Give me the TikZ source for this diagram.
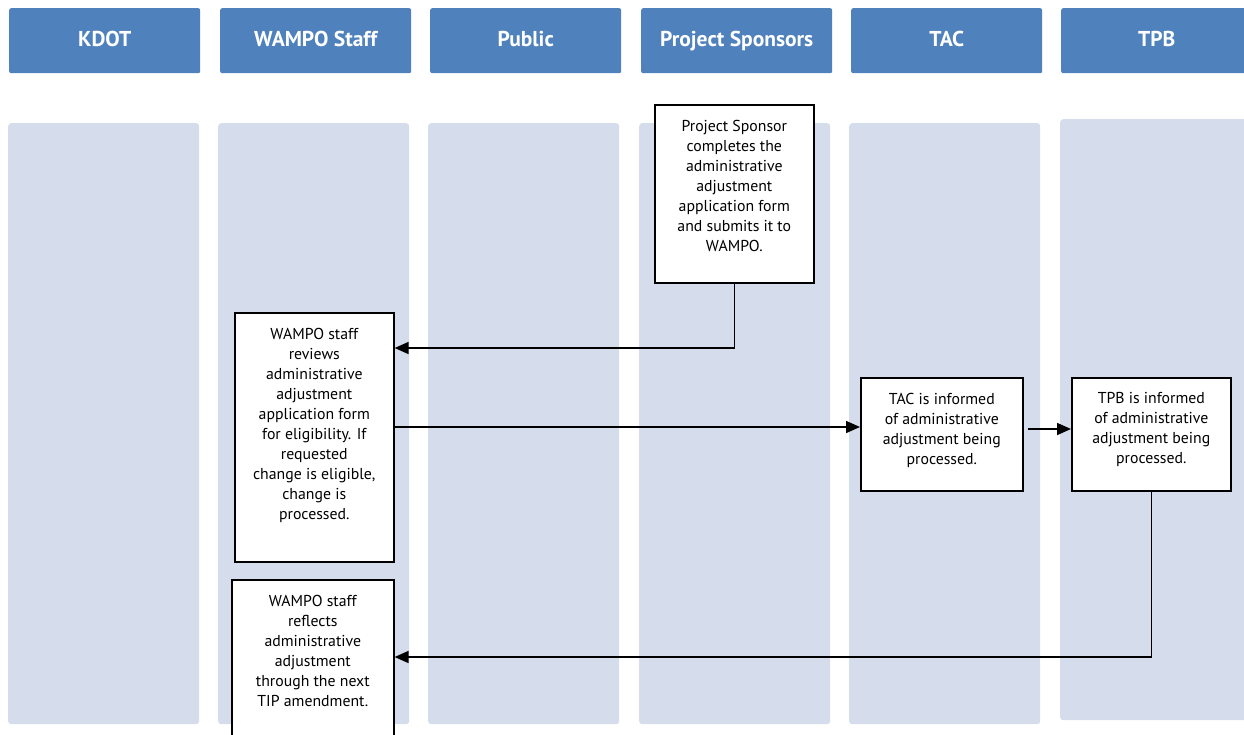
\documentclass[tikz,border=0pt]{standalone}
\usepackage{fontspec}
\setmainfont{PT Sans}
\usepackage{xcolor}
\usetikzlibrary{arrows.meta, positioning}

\definecolor{headblue}{HTML}{4F81BD}
\definecolor{lanegray}{HTML}{D5DCEB}

% text of a step box, set from the top
\newcommand{\steptext}[3]{\parbox[c][#2][t]{#1}{\centering\vspace*{15pt}#3}}

\begin{document}
\begin{tikzpicture}[x=1pt, y=-1pt, >={Triangle[length=14pt,width=12pt]},
  font=\fontsize{15.8}{20}\selectfont,
  head/.style={fill=headblue, rounded corners=2pt, minimum width=191pt, minimum height=65pt, inner sep=0pt, anchor=north west, text=white, text height=15pt, text depth=4pt, font=\fontsize{21.5}{24}\selectfont\bfseries},
  lane/.style={fill=lanegray, rounded corners=3pt, minimum width=191pt, minimum height=601pt, inner sep=0pt, anchor=north west},
  stepbox/.style={draw, line width=1.6pt, fill=white, inner sep=0pt, anchor=north west},
  flow/.style={->, line width=1.6pt}]

\useasboundingbox (0,0) rectangle (1244,734);
\clip (0,0) rectangle (1244,734);

% Headers
\node[head] (hkdot) at (9,8) {KDOT};
\node[head] (hwampo) at (220,8) {WAMPO Staff};
\node[head] (hpublic) at (430,8) {Public};
\node[head] (hsponsor) at (641,8) {Project Sponsors};
\node[head] (htac) at (851,8) {TAC};
\node[head] (htpb) at (1061,8) {TPB};

% Lanes
\node[lane] (lkdot) at (8,123) {};
\node[lane] (lwampo) at (218,123) {};
\node[lane] (lpublic) at (428,123) {};
\node[lane] (lsponsor) at (639,123) {};
\node[lane] (ltac) at (849,123) {};
\node[lane] (ltpb) at (1060,119) {};

% Steps
\node[stepbox] (sponsor) at (654,104) {\steptext{159pt}{178pt}{Project Sponsor\\ completes the\\ administrative\\ adjustment\\ application form\\ and submits it to\\ WAMPO.}};
\node[stepbox] (review) at (234,312) {\steptext{159pt}{249pt}{WAMPO staff\\ reviews\\ administrative\\ adjustment\\ application form\\ for eligibility. If\\ requested\\ change is eligible,\\ change is\\ processed.}};
\node[stepbox] (tac) at (860,377) {\steptext{162pt}{113pt}{TAC is informed\\ of administrative\\ adjustment being\\ processed.}};
\node[stepbox] (tpb) at (1071,377) {\steptext{159pt}{113pt}{TPB is informed\\ of administrative\\ adjustment being\\ processed.}};
\node[stepbox] (reflect) at (231,579) {\steptext{162pt}{170pt}{WAMPO staff\\ reflects\\ administrative\\ adjustment\\ through the next\\ TIP amendment.}};

% Edges
\coordinate (j1) at (734,348);
\coordinate (j2) at (600,427);
\coordinate (j3) at (1040,429);
\coordinate (j4) at (1151,657);
\draw[flow] (sponsor.south) -- (sponsor.south |- j1) -- (j1 -| review.east);
\draw[flow] (review.east |- j2) -- (tac.west |- j2);
\draw[flow, shorten <=4pt] (tac.east |- j3) -- (tpb.west |- j3);
\draw[flow] (tpb.south) -- (tpb.south |- j4) -- (j4 -| reflect.east);

\end{tikzpicture}
\end{document}
